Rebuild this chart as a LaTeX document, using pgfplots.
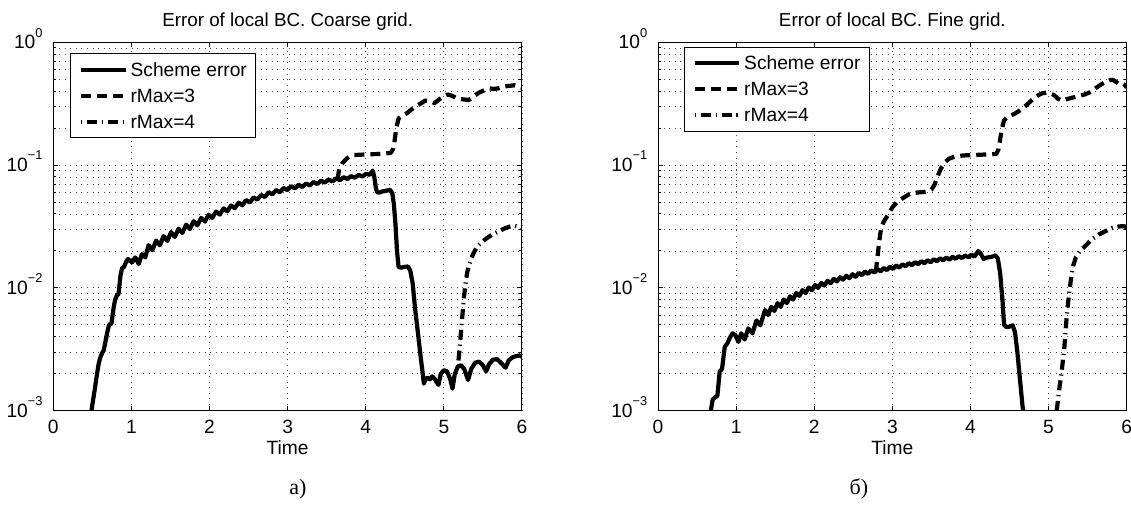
\documentclass[border=0pt]{standalone}
\usepackage{fontspec}
\setmainfont{Liberation Sans}
\newfontfamily\capfont{Liberation Serif}
\usepackage{pgfplots}
\pgfplotsset{compat=1.18}

% 10^k tick labels in the text font
\newcommand{\ep}[1]{10\raisebox{5.8pt}{\fontsize{6.4}{7}\selectfont #1}}

\pgfplotsset{
  errplot/.style={
    scale only axis, width=234.35pt, height=184.2pt, anchor=south west,
    xmin=0, xmax=6, ymin=1e-3, ymax=1,
    xtick={0,1,2,3,4,5,6},
    ytick={1e-3,1e-2,1e-1,1},
    yticklabels={\ep{−3},\ep{−2},\ep{−1},\ep{0}},
    minor ytick={2e-3,3e-3,4e-3,5e-3,6e-3,7e-3,8e-3,9e-3,
                 2e-2,3e-2,4e-2,5e-2,6e-2,7e-2,8e-2,9e-2,
                 0.2,0.3,0.4,0.5,0.6,0.7,0.8,0.9},
    tick align=inside,
    major tick length=2.4pt, minor tick length=1.4pt,
    tick style={black, line width=0.5pt},
    minor tick style={black, line width=0.5pt},
    xmajorgrids, ymajorgrids, yminorgrids,
    major grid style={black!70, line width=0.4pt, dash pattern=on 0.5pt off 2.3pt},
    minor grid style={black!70, line width=0.4pt, dash pattern=on 0.5pt off 2.3pt},
    axis line style={black, line width=0.5pt},
    xticklabel style={font=\fontsize{9.6}{11}\selectfont, anchor=base, inner sep=0pt, yshift=-11.5pt},
    yticklabel style={font=\fontsize{9.6}{11}\selectfont, anchor=base east, inner sep=0pt, xshift=-5.2pt, yshift=-3.2pt},
    xlabel={Time},
    xlabel style={at={(axis description cs:0.5,0)}, anchor=base, inner sep=0pt, yshift=-21.9pt, font=\fontsize{9.6}{11}\selectfont},
    title style={at={(axis description cs:0.5,1)}, anchor=base, inner sep=0pt, yshift=1.8pt, font=\fontsize{9.4}{11}\selectfont},
    legend cell align=left,
    legend style={anchor=north west, draw=black, line width=0.5pt, fill=white,
      inner xsep=4.3pt, inner ysep=3.7pt, row sep=4.3pt, column sep=1.35pt,
      font=\fontsize{9.6}{11}\selectfont,
      nodes={inner sep=0pt, text height=7.7pt, text depth=1pt}},
    legend image code/.code={\draw[##1] (0pt,0pt) -- (22.3pt,0pt);},
  },
  scheme/.style={black, line width=2.1pt, line join=round},
  rthree/.style={black, line width=2.1pt, line join=round, dash pattern=on 5pt off 3pt},
  rfour/.style={black, line width=2.1pt, line join=round, dash pattern=on 5pt off 2.4pt on 0.6pt off 2.4pt, dash phase=7.4pt},
}

\begin{document}
\begin{tikzpicture}
\useasboundingbox (0,0) rectangle (565.5pt,253pt);

\begin{axis}[ymode=log, errplot, at={(26.65pt,47.65pt)},
    /pgf/number format/assume math mode=true,
    title={Error of local BC. Coarse grid.},
    legend style={at={(axis description cs:0,1)}, xshift=8.35pt, yshift=-5.5pt}]
\addplot[scheme] coordinates {
(0.47,0.000832)(0.50,0.001122)(0.53,0.001479)(0.555,0.001905)(0.58,0.002399)(0.60,0.002692)
(0.625,0.002951)(0.645,0.003090)(0.67,0.003715)(0.695,0.004467)(0.715,0.005012)(0.745,0.005129)
(0.77,0.006761)(0.79,0.007943)(0.815,0.008710)(0.835,0.008913)(0.86,0.01259)(0.88,0.01445)
(0.905,0.01479)(0.93,0.01622)(0.954,0.01718)(1.008,0.01614)(1.05,0.01770)(1.093,0.01563)
(1.135,0.01884)(1.177,0.01770)
(1.220,0.02228)(1.268,0.02028)(1.316,0.02427)(1.364,0.02223)(1.412,0.02642)(1.460,0.02416)
(1.508,0.02844)(1.556,0.02600)(1.604,0.03034)(1.652,0.02799)(1.700,0.03273)(1.748,0.03013)
(1.796,0.03491)(1.844,0.03228)(1.892,0.03715)(1.940,0.03467)(1.988,0.03945)(2.036,0.03715)
(2.084,0.04188)(2.132,0.03954)(2.180,0.04436)(2.228,0.04207)(2.276,0.04688)(2.324,0.04457)
(2.372,0.04943)(2.420,0.04710)(2.468,0.05188)(2.516,0.04966)(2.564,0.05458)(2.612,0.05224)
(2.660,0.05715)(2.708,0.05495)(2.756,0.06012)(2.804,0.05781)(2.852,0.06266)(2.900,0.06012)
(2.948,0.06502)(2.996,0.06266)(3.044,0.06730)(3.092,0.06457)(3.140,0.06918)(3.188,0.06637)
(3.236,0.07079)(3.284,0.06823)(3.332,0.07278)(3.380,0.07015)(3.428,0.07464)(3.476,0.07211)
(3.524,0.07621)(3.572,0.07362)(3.620,0.07798)(3.668,0.07534)(3.716,0.07962)(3.764,0.07709)
(3.812,0.08128)(3.860,0.07889)(3.908,0.08318)(3.956,0.08072)(4.004,0.08492)(4.052,0.08337)
(4.09,0.09016)(4.11,0.07943)(4.13,0.06457)(4.145,0.06026)(4.17,0.05957)(4.21,0.06095)
(4.25,0.06166)(4.29,0.06237)(4.31,0.06310)(4.34,0.05888)(4.36,0.04786)(4.38,0.03311)
(4.40,0.01995)(4.42,0.01479)(4.45,0.01462)(4.49,0.01479)(4.54,0.01496)(4.57,0.01380)
(4.60,0.01096)(4.63,0.006918)(4.67,0.004169)(4.71,0.002512)(4.745,0.001660)(4.76,0.001778)
(4.79,0.001862)(4.82,0.001799)(4.85,0.001905)(4.88,0.001820)(4.93,0.001622)(4.96,0.001995)
(5.00,0.002138)(5.04,0.002089)(5.08,0.001820)(5.11,0.001514)(5.14,0.001995)(5.18,0.002291)
(5.22,0.002344)(5.26,0.002188)(5.31,0.001778)(5.35,0.002188)(5.40,0.002455)(5.45,0.002512)
(5.50,0.002344)(5.54,0.002089)(5.58,0.002399)(5.63,0.002600)(5.68,0.002630)(5.73,0.002455)
(5.79,0.002239)(5.83,0.002570)(5.88,0.002723)(5.93,0.002786)(5.97,0.002818)(6.00,0.002754)
};
\addlegendentry{Scheme error\hspace{3.6pt}}
\addplot[rthree] coordinates {
(3.64,0.07674)(3.66,0.09333)(3.70,0.1035)(3.75,0.1122)(3.80,0.1189)(3.85,0.1208)(3.95,0.1216)
(4.05,0.1225)(4.15,0.1230)(4.25,0.1245)(4.32,0.1259)(4.35,0.1349)(4.37,0.1585)(4.39,0.1995)
(4.42,0.2399)(4.46,0.2512)(4.52,0.2630)(4.58,0.2818)(4.64,0.3020)(4.70,0.3162)(4.76,0.3350)
(4.82,0.3311)(4.88,0.3199)(4.94,0.3428)(5.00,0.3631)(5.05,0.3758)(5.10,0.3673)(5.18,0.3467)
(5.25,0.3428)(5.32,0.3388)(5.38,0.3631)(5.45,0.3890)(5.52,0.4074)(5.58,0.4217)(5.64,0.4169)
(5.70,0.4217)(5.77,0.4365)(5.84,0.4416)(5.90,0.4467)(5.96,0.4365)(6.00,0.4266)
};
\addlegendentry{rMax=3}
\addplot[rfour] coordinates {
(5.18,0.002291)(5.20,0.003162)(5.22,0.004467)(5.24,0.006310)(5.26,0.008710)(5.28,0.01122)
(5.30,0.01349)(5.33,0.01585)(5.37,0.01862)(5.42,0.02138)(5.48,0.02344)(5.55,0.02541)
(5.62,0.02723)(5.70,0.02884)(5.78,0.03055)(5.85,0.03162)(5.91,0.03199)(5.96,0.03126)(6.00,0.03055)
};
\addlegendentry{rMax=4}
\end{axis}

\begin{axis}[ymode=log, errplot, at={(329pt,47.65pt)},
    /pgf/number format/assume math mode=true,
    title={Error of local BC. Fine grid.},
    legend style={at={(axis description cs:0,1)}, xshift=12.8pt, yshift=-2.2pt}]
\addplot[scheme] coordinates {
(0.665,0.000891)(0.676,0.001000)(0.70,0.001230)(0.73,0.001288)(0.76,0.001318)(0.79,0.002089)
(0.82,0.002188)(0.854,0.003311)(0.89,0.003548)(0.92,0.003936)(0.955,0.004266)(0.99,0.004121)
(1.03,0.003631)(1.065,0.004266)(1.11,0.003802)(1.155,0.004677)(1.21,0.004266)(1.26,0.005433)
(1.31,0.004955)(1.37,0.006607)
(1.41,0.006012)(1.45,0.006998)(1.49,0.006486)(1.53,0.007516)(1.57,0.006998)(1.61,0.008035)
(1.65,0.007516)(1.69,0.008531)(1.73,0.008035)(1.77,0.009078)(1.81,0.008610)(1.85,0.009594)
(1.89,0.009078)(1.93,0.01007)(1.97,0.009572)(2.01,0.01054)(2.05,0.01000)(2.09,0.01096)
(2.13,0.01045)(2.17,0.01143)(2.21,0.01091)(2.25,0.01183)(2.29,0.01127)(2.33,0.01222)
(2.37,0.01167)(2.41,0.01256)(2.45,0.01199)(2.49,0.01291)(2.53,0.01233)(2.57,0.01324)
(2.61,0.01271)(2.65,0.01358)(2.69,0.01300)(2.73,0.01390)(2.77,0.01334)(2.81,0.01419)
(2.85,0.01365)(2.89,0.01452)(2.93,0.01396)(2.97,0.01486)(3.01,0.01429)(3.05,0.01521)
(3.09,0.01462)(3.13,0.01556)(3.17,0.01500)(3.21,0.01589)(3.25,0.01531)(3.29,0.01618)
(3.33,0.01560)(3.37,0.01648)(3.41,0.01589)(3.45,0.01679)(3.49,0.01618)(3.53,0.01710)
(3.57,0.01648)(3.61,0.01742)(3.65,0.01675)(3.69,0.01766)(3.73,0.01698)(3.77,0.01791)
(3.81,0.01726)(3.85,0.01811)(3.89,0.01750)(3.93,0.01837)(3.97,0.01774)(4.01,0.01862)
(4.05,0.01799)(4.10,0.01995)(4.13,0.01905)(4.17,0.01718)(4.20,0.01758)(4.24,0.01778)
(4.28,0.01799)(4.32,0.01841)(4.35,0.01738)(4.38,0.01318)(4.41,0.007943)(4.43,0.005012)
(4.46,0.004786)(4.50,0.004842)(4.54,0.004955)(4.57,0.004365)(4.60,0.003020)(4.63,0.001905)
(4.66,0.001202)(4.68,0.000891)
};
\addlegendentry{Scheme error\hspace{3.6pt}}
\addplot[rthree] coordinates {
(2.79,0.01349)(2.80,0.01585)(2.815,0.01905)(2.83,0.02344)(2.855,0.03020)(2.89,0.03467)
(2.94,0.03890)(3.00,0.04519)(3.06,0.05012)(3.12,0.05309)(3.17,0.05559)(3.22,0.05821)
(3.30,0.05957)(3.38,0.06026)(3.45,0.06095)(3.50,0.06310)(3.54,0.06918)(3.58,0.08128)
(3.62,0.09333)(3.67,0.1047)(3.72,0.1122)(3.78,0.1161)(3.85,0.1189)(3.95,0.1202)(4.05,0.1208)
(4.15,0.1216)(4.25,0.1225)(4.33,0.1230)(4.36,0.1349)(4.38,0.1622)(4.40,0.1950)(4.43,0.2317)
(4.47,0.2455)(4.52,0.2541)(4.57,0.2630)(4.62,0.2754)(4.67,0.2917)(4.72,0.3090)(4.77,0.3311)
(4.82,0.3548)(4.87,0.3715)(4.92,0.3846)(4.97,0.3890)(5.02,0.3846)(5.07,0.3715)(5.12,0.3467)
(5.17,0.3350)(5.22,0.3428)(5.28,0.3508)(5.34,0.3589)(5.40,0.3673)(5.46,0.3758)(5.52,0.3890)
(5.57,0.4074)(5.62,0.4315)(5.67,0.4519)(5.72,0.4732)(5.78,0.4898)(5.82,0.4955)(5.86,0.4786)
(5.90,0.4571)(5.94,0.4624)(5.98,0.4467)(6.00,0.4266)
};
\addlegendentry{rMax=3}
\addplot[rfour] coordinates {
(5.09,0.000891)(5.11,0.001072)(5.135,0.001479)(5.16,0.001905)(5.18,0.002455)(5.20,0.003162)
(5.215,0.004266)(5.23,0.005623)(5.25,0.007586)(5.27,0.009772)(5.29,0.01230)(5.315,0.01514)
(5.35,0.01778)(5.40,0.01995)(5.46,0.02163)(5.55,0.02472)(5.64,0.02716)(5.73,0.02897)
(5.82,0.03090)(5.90,0.03162)(5.96,0.03184)(6.00,0.03126)
};
\addlegendentry{rMax=4}
\end{axis}

\node[anchor=base, font=\capfont\fontsize{11}{13}\selectfont] at (149pt,5.6pt) {а)};
\node[anchor=base, font=\capfont\fontsize{11}{13}\selectfont] at (429.5pt,5.6pt) {б)};
\end{tikzpicture}
\end{document}
